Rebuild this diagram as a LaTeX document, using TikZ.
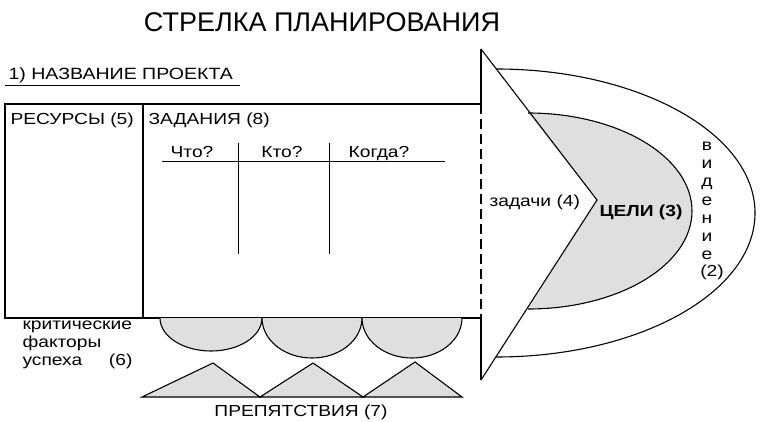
\documentclass[tikz,border=0pt]{standalone}
\usepackage{fontspec}
\setmainfont{Liberation Sans}
\newfontfamily\wf[FakeStretch=1.2]{Liberation Sans}
\begin{document}
\begin{tikzpicture}[x=1pt,y=-1pt,line width=1.1pt,
  txt/.style={font=\wf\fontsize{16}{18}\selectfont,inner sep=0pt,anchor=base west},
  ctxt/.style={font=\wf\fontsize{16}{18}\selectfont,inner sep=0pt,anchor=base},
  shade/.style={fill=gray!25}]
\useasboundingbox (0,0) rectangle (768,422);
% title
\node[font=\fontsize{27}{30}\selectfont,inner sep=0pt,anchor=base] (title) at (322,32) {СТРЕЛКА ПЛАНИРОВАНИЯ};
\node[font=\wf\fontsize{16.3}{18}\selectfont,inner sep=0pt,anchor=base west] (proj) at (8,80) {1) НАЗВАНИЕ ПРОЕКТА};
\draw[line width=0.9pt] (5,85) -- (240,85);
% goals region fill
\fill[shade] (528,113) -- (597,200) -- (528,309) arc[start angle=90,end angle=-90,x radius=164,y radius=98] -- cycle;
\draw (528,309) arc[start angle=90,end angle=-90,x radius=164,y radius=98];
% vision arc
\draw (496,357) arc[start angle=90,end angle=-90,x radius=259,y radius=144];
% arrow head (triangle)
\coordinate (t1) at (481,49);
\coordinate (tp) at (597,200);
\coordinate (t2) at (481,380);
\draw[line join=miter] (t1) -- (tp) -- (t2);
\draw (t1) -- (481,104);
\draw[dash pattern=on 10pt off 5pt] (481,104) -- (481,318);
\draw (481,318) -- (t2);
% main box
\draw (481,104) -- (5,104) -- (5,318) -- (481,318);
\draw (143,104) -- (143,318);
% table
\draw[line width=0.9pt] (162,161) -- (445,161);
\draw[line width=0.9pt] (238,143) -- (238,254);
\draw[line width=0.9pt] (329,143) -- (329,254);
% semicircles
\filldraw[shade] (160,318) arc[start angle=180,end angle=0,x radius=51,y radius=33];
\filldraw[shade] (262,318) arc[start angle=180,end angle=0,x radius=50,y radius=40];
\filldraw[shade] (362,318) arc[start angle=180,end angle=0,x radius=50,y radius=40];
% triangles
\filldraw[shade,line join=miter] (142,397) -- (213,363) -- (260,397) -- cycle;
\filldraw[shade,line join=miter] (260,397) -- (313,363) -- (363,397) -- cycle;
\filldraw[shade,line join=miter] (363,397) -- (415,362) -- (462,397) -- cycle;
% texts
\node[txt] (res) at (10,125) {РЕСУРСЫ (5)};
\node[txt] (zad) at (148,125) {ЗАДАНИЯ (8)};
\node[ctxt] (h1) at (192,158) {Что?};
\node[ctxt] (h2) at (282,158) {Кто?};
\node[ctxt] (h3) at (379,158) {Когда?};
\node[txt] (tasks) at (489,207) {задачи (4)};
\node[txt,font=\wf\bfseries\fontsize{16}{18}\selectfont] (goals) at (599,217) {ЦЕЛИ (3)};
\node[txt] (k1) at (22,329) {критические};
\node[txt] (k2) at (22,347) {факторы};
\node[txt] (k3) at (22,365) {успеха};
\node[txt,anchor=base east] (k4) at (133,365) {(6)};
\node[ctxt] (obst) at (301,416) {ПРЕПЯТСТВИЯ (7)};
\foreach \l/\y [count=\i] in {в/151,и/169,д/187,е/205,н/223,и/241,е/259}
  \node[ctxt] (v\i) at (707,\y) {\l};
\node[ctxt] (v8) at (712,276) {(2)};
\end{tikzpicture}
\end{document}
